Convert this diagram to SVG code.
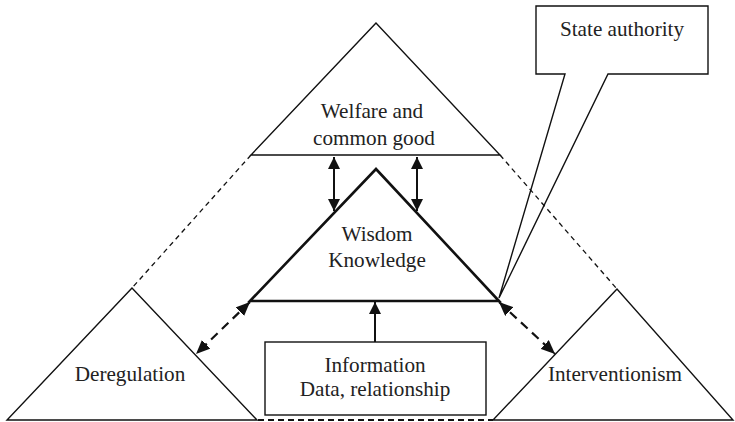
<svg xmlns="http://www.w3.org/2000/svg" width="735" height="422" viewBox="0 0 735 422">
  <style>
    .shape { fill: none; stroke: #111; stroke-width: 1.4; stroke-linejoin: miter; }
    .thick { fill: none; stroke: #111; stroke-width: 2.6; stroke-linejoin: miter; }
    .dash { fill: none; stroke: #111; stroke-width: 1.3; stroke-dasharray: 5 4; }
    .dashb { fill: none; stroke: #111; stroke-width: 2; stroke-dasharray: 6 4; }
    .arr { fill: none; stroke: #111; stroke-width: 2; }
    .arrd { fill: none; stroke: #111; stroke-width: 2.2; stroke-dasharray: 9 6; }
    .lbl { font-family: 'Liberation Serif', 'Times New Roman', serif; font-size: 21.2px; fill: #222; text-anchor: middle; }
  </style>
  <defs>
    <marker id="head" viewBox="0 0 12 12" refX="12" refY="6" markerWidth="12" markerHeight="12" markerUnits="userSpaceOnUse" orient="auto-start-reverse">
      <path d="M0,0 L12,6 L0,12 Z" fill="#111"/>
    </marker>
    <marker id="headL" viewBox="0 0 14 12" refX="14" refY="6" markerWidth="14" markerHeight="12" markerUnits="userSpaceOnUse" orient="auto-start-reverse">
      <path d="M0,0 L14,6 L0,12 Z" fill="#111"/>
    </marker>
  </defs>

  <g id="welfare">
    <polygon class="shape" points="376,23 251,155 500,155"/>
    <text class="lbl" x="372" y="118">Welfare and</text>
    <text class="lbl" x="374" y="145">common good</text>
  </g>

  <g id="wisdom">
    <polygon class="thick" points="376,169 250,301 499,301"/>
    <text class="lbl" x="377" y="241">Wisdom</text>
    <text class="lbl" x="377" y="267">Knowledge</text>
  </g>

  <g id="deregulation">
    <polygon class="shape" points="132,288 7,420 257,420"/>
    <text class="lbl" x="130" y="381">Deregulation</text>
  </g>

  <g id="interventionism">
    <polygon class="shape" points="617,289 493,420 733,420"/>
    <text class="lbl" x="615" y="381">Interventionism</text>
  </g>

  <g id="information">
    <rect class="shape" x="265" y="342" width="221" height="73"/>
    <text class="lbl" x="375" y="372">Information</text>
    <text class="lbl" x="375" y="396">Data, relationship</text>
  </g>

  <g id="state-authority">
    <path class="shape" d="M536,6 H708 V74 H608 L499,298 L565,74 H536 Z"/>
    <text class="lbl" x="622" y="36">State authority</text>
  </g>

  <g id="connectors">
    <!-- outer frame joining the triangles -->
    <line class="dash" x1="251" y1="155" x2="132" y2="288"/>
    <line class="dash" x1="500" y1="155" x2="617" y2="289"/>
    <line class="dashb" x1="258" y1="420" x2="493" y2="420"/>
    <!-- welfare <-> wisdom -->
    <line class="arr" x1="334" y1="157" x2="334" y2="211" marker-start="url(#head)" marker-end="url(#head)"/>
    <line class="arr" x1="417" y1="157" x2="417" y2="211" marker-start="url(#head)" marker-end="url(#head)"/>
    <!-- information -> wisdom -->
    <line class="arr" x1="375" y1="342" x2="375" y2="302" marker-end="url(#head)"/>
    <!-- wisdom <-> deregulation / interventionism -->
    <line class="arrd" x1="250" y1="302" x2="196" y2="354" marker-start="url(#headL)" marker-end="url(#headL)"/>
    <line class="arrd" x1="499" y1="302" x2="555" y2="354" marker-start="url(#headL)" marker-end="url(#headL)"/>
  </g>
</svg>
